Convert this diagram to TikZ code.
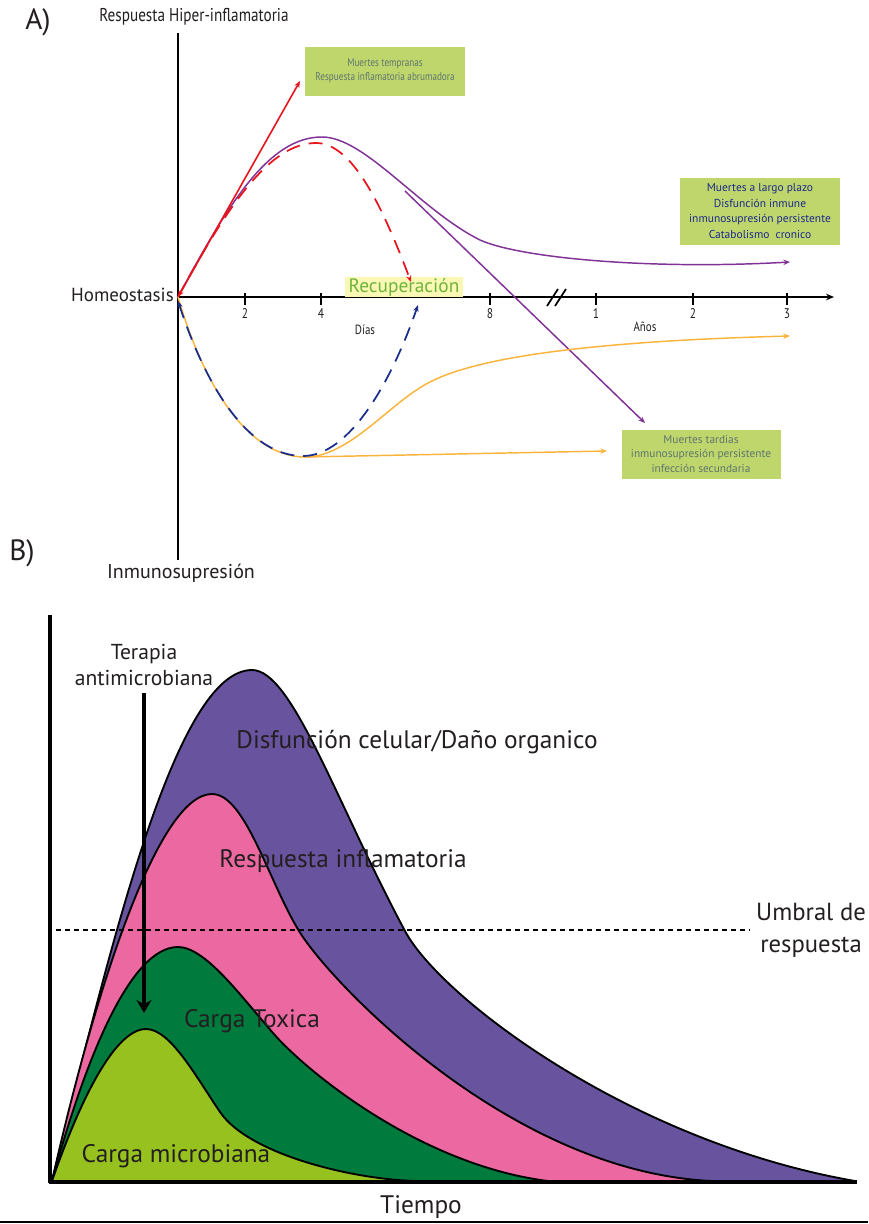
\documentclass[tikz,border=0pt]{standalone}
\usepackage{fontspec}
\setmainfont{PT Sans}
\newfontfamily\cond[FakeStretch=0.82]{PT Sans}
\usetikzlibrary{arrows.meta}
\definecolor{boxg}{RGB}{190,214,108}
\definecolor{txtgrey}{RGB}{95,118,110}
\definecolor{txtnavy}{RGB}{30,40,140}
\definecolor{recg}{RGB}{110,180,60}
\definecolor{recbg}{RGB}{250,248,180}
\definecolor{purA}{RGB}{128,50,150}
\definecolor{redA}{RGB}{232,20,30}
\definecolor{bluA}{RGB}{25,45,140}
\definecolor{oraA}{RGB}{250,180,60}
\definecolor{lgreen}{RGB}{150,193,31}
\definecolor{dgreen}{RGB}{0,122,61}
\definecolor{pinkB}{RGB}{236,104,160}
\definecolor{purB}{RGB}{104,83,158}
\definecolor{ink}{RGB}{35,31,32}
\begin{document}
\begin{tikzpicture}[x=0.75pt,y=-0.75pt,
  axis/.style={line width=1.5pt,black},
  arr/.style={-{Stealth[length=5pt,width=4pt]}},
  curveA/.style={line width=1.1pt},
  dashA/.style={line width=1.3pt,dash pattern=on 10.5pt off 6.75pt},
  gbox/.style={fill=boxg,draw=none,inner sep=0pt,align=center},
  area/.style={draw=black,line width=1.4pt,line join=round},
  lab/.style={text=ink,inner sep=0pt},
  big/.style={lab,font=\fontsize{19}{21}\selectfont}]
\useasboundingbox (0,0) rectangle (868,1224);
\fill[white] (0,0) rectangle (868,1224);

% ---------------- Part A ----------------
\node[lab,font=\fontsize{22}{24}\selectfont] (labA) at (38,22) {A)};
\node[lab,font=\cond\fontsize{13.9}{15}\selectfont] (ytop) at (194,17) {Respuesta Hiper-inflamatoria};
\node[lab,font=\fontsize{15}{17}\selectfont] (ybot) at (181,573) {Inmunosupresión};
\node[lab,font=\fontsize{14.2}{16}\selectfont,anchor=east] (homeo) at (174,295) {Homeostasis};

\coordinate (O) at (178,297);
\coordinate (Ytop) at (178,33);
\coordinate (Ybot) at (178,560);
\coordinate (Xend) at (834,297);
\draw[axis] (Ytop) -- (Ybot);
\draw[axis,-{Stealth[length=6pt,width=5pt]}] (O) -- (Xend);

\foreach \x/\t in {245/2,321/4,490/8,596/1,693/2,787/3}{
  \draw[line width=1.3pt] (\x,293) -- (\x,305);
  \node[lab,font=\cond\fontsize{10.5}{11}\selectfont] at (\x,314) {\t};
}
\draw[line width=1.3pt] (547,306) -- (558,289);
\draw[line width=1.3pt] (555,306) -- (566,289);
\node[lab,font=\cond\fontsize{10}{11}\selectfont] (dias) at (365,330) {Días};
\node[lab,font=\cond\fontsize{10}{11}\selectfont] (anos) at (645,327) {Años};

% green boxes
\node[gbox,minimum width=120pt,minimum height=36.75pt,text=txtgrey,font=\cond\fontsize{8.4}{10.5}\selectfont] (b1) at (385,71)
  {Muertes tempranas\\Respuesta inflamatoria abrumadora};
\node[gbox,minimum width=120pt,minimum height=50.25pt,text=txtnavy,font=\fontsize{8.6}{11.6}\selectfont] (b2) at (760,211)
  {Muertes a largo plazo\\Disfunción inmune\\inmunosupresión persistente\\Catabolismo\ \ cronico};
\node[gbox,minimum width=119.25pt,minimum height=36.75pt,text=txtgrey,font=\fontsize{8.5}{11.2}\selectfont] (b3) at (701,454)
  {Muertes tardias\\inmunosupresión persistente\\infección secundaria};
\node[fill=recbg,text=recg,inner xsep=3pt,inner ysep=1.2pt,font=\fontsize{14.5}{15}\selectfont] (rec) at (404,287) {Recuperación};

% curves
\coordinate (Pk) at (322,137);
\coordinate (Pend) at (790,262);
\coordinate (Pbr) at (405,191);
\coordinate (Plend) at (645,423);
\coordinate (Rend) at (300,81);
\coordinate (RDend) at (411,282);
\coordinate (Bend) at (418,305);
\coordinate (Tr) at (305,457);
\coordinate (Oend) at (790,336);
\coordinate (OLend) at (607,451);

% purple curve
\draw[purA,curveA,arr] (O) .. controls (230,200) and (270,137) .. (Pk)
  .. controls (365,137) and (420,210) .. (480,240)
  .. controls (520,258) and (650,270) .. (Pend);
\draw[purA,curveA,arr] (Pbr) -- (Plend);
% red
\draw[redA,line width=1.2pt,{Stealth[length=5pt,width=4pt]}-{Stealth[length=5pt,width=4pt]}] (O) -- (Rend);
\draw[redA,dashA,arr] (O) .. controls (228,205) and (270,143) .. (316,143)
  .. controls (352,143) and (382,205) .. (RDend);
% orange
\draw[oraA,curveA,arr] (O) .. controls (205,390) and (250,457) .. (Tr)
  .. controls (350,457) and (390,402) .. (430,382)
  .. controls (480,356) and (600,341) .. (Oend);
\draw[oraA,curveA,arr] (Tr) -- (OLend);
% blue dashed
\draw[bluA,dashA,{Stealth[length=5pt,width=4pt]}-{Stealth[length=5pt,width=4pt]}] (178,301) .. controls (207,390) and (250,456) .. (303,456)
  .. controls (350,456) and (392,380) .. (Bend);

% ---------------- Part B ----------------
\node[lab,font=\fontsize{22}{24}\selectfont] (labB) at (22,553) {B)};

\coordinate (BO) at (52,1181);
% purple area
\filldraw[area,fill=purB] (BO) .. controls (110,950) and (175,670) .. (252,670)
  .. controls (292,670) and (335,800) .. (405,931)
  .. controls (440,997) and (630,1142) .. (855,1181) -- cycle;
% pink area
\filldraw[area,fill=pinkB] (BO) .. controls (95,990) and (158,794) .. (212,794)
  .. controls (245,794) and (268,880) .. (299,931)
  .. controls (330,982) and (510,1172) .. (712,1181) -- cycle;
% dark green
\filldraw[area,fill=dgreen] (BO) .. controls (85,1060) and (130,947) .. (178,947)
  .. controls (205,947) and (240,995) .. (273,1033)
  .. controls (306,1071) and (420,1165) .. (548,1181) -- cycle;
% light green
\filldraw[area,fill=lgreen] (BO) .. controls (80,1100) and (115,1029) .. (146,1029)
  .. controls (170,1029) and (195,1075) .. (220,1112)
  .. controls (250,1156) and (360,1181) .. (421,1181) -- cycle;

\coordinate (BYtop) at (50,615);
\coordinate (BYbot) at (50,1183);
\coordinate (BXend) at (857,1182);
\draw[line width=2.3pt] (BYtop) -- (BYbot);
\draw[line width=2.5pt] (49,1182) -- (BXend);
\draw[line width=1.5pt] (0,1222) -- (868,1222);

% threshold
\coordinate (Ua) at (56,930);
\coordinate (Ub) at (750,930);
\draw[line width=1.4pt,dash pattern=on 3.75pt off 3pt] (Ua) -- (Ub);
\node[lab,align=center,font=\fontsize{18.5}{24}\selectfont] (umbral) at (811,930) {Umbral de\\respuesta};

% labels
\node[big] (disf) at (417,742) {Disfunción celular/Daño organico};
\node[big] (resp) at (343,861) {Respuesta inflamatoria};
\node[big] (tox) at (252,1021) {Carga Toxica};
\node[big] (micro) at (176,1156) {Carga microbiana};
\node[lab,align=center,font=\fontsize{16.2}{20}\selectfont] (terapia) at (144,665) {Terapia\\antimicrobiana};
\coordinate (Ttop) at (144,693);
\coordinate (Tbot) at (144,1013);
\draw[line width=3pt,-{Stealth[length=9.75pt,width=11.25pt]}] (Ttop) -- (Tbot);
\node[lab,font=\fontsize{19}{21}\selectfont] (tiempo) at (421,1207) {Tiempo};
\end{tikzpicture}
\end{document}
